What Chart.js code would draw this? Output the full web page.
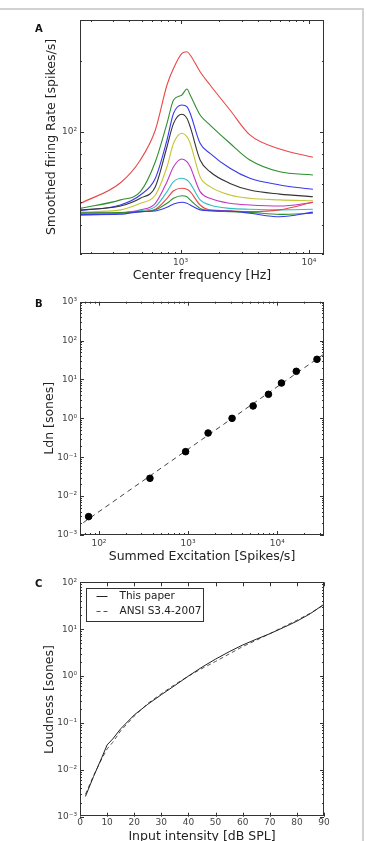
<!DOCTYPE html>
<html>
<head>
<meta charset="utf-8">
<script src="https://cdn.jsdelivr.net/npm/chart.js@4.4.1/dist/chart.umd.min.js"></script>
<style>
  html, body { margin: 0; padding: 0; background: #fff; width: 367px; height: 841px; overflow: hidden; position: relative; }
  .frame { position: absolute; left: -10px; top: 8px; width: 374px; height: 900px; border: 2px solid #d2d2d2; box-sizing: border-box; }
  canvas { position: absolute; left: 0; }
  .tag { position: absolute; left: 35px; font: bold 10px "DejaVu Sans", sans-serif; color: #111; line-height: 12px; }
</style>
</head>
<body>
<div class="frame"></div>
<canvas id="chartA" width="367" height="290" style="top:0"></canvas>
<canvas id="chartB" width="367" height="280" style="top:290px"></canvas>
<canvas id="chartC" width="367" height="290" style="top:570px"></canvas>
<div class="tag" style="top:23px">A</div>
<div class="tag" style="top:298px">B</div>
<div class="tag" style="top:578px">C</div>
<script>
const FONT = '"DejaVu Sans", sans-serif';

// Panel A: firing rate vs center frequency, one curve per level (lowest first)
const freqA = [167, 341, 487, 637, 785, 883, 1025, 1121, 1189, 1421, 1699, 2428, 3467, 5928, 10740];
const rateA1  = [44.2, 44.4, 45.5, 45.8, 47.5, 49.1, 49.9, 49.4, 48.6, 46.3, 45.9, 45.8, 44.8, 43.3, 45.3];
const rateA2  = [45.0, 45.1, 45.5, 46.3, 49.4, 51.9, 53.2, 52.7, 51.1, 47.0, 45.9, 45.5, 45.2, 44.3, 44.8];
const rateA3  = [44.8, 45.0, 45.5, 46.6, 51.9, 55.9, 57.3, 56.7, 55.4, 48.6, 46.3, 45.9, 45.5, 46.3, 49.9];
const rateA4  = [44.8, 45.0, 45.9, 47.8, 55.4, 61.1, 63.2, 62.1, 60.1, 51.1, 48.6, 47.0, 46.6, 46.3, 46.6];
const rateA5  = [44.0, 44.8, 46.3, 49.4, 61.1, 70.8, 76.4, 74.4, 70.8, 55.4, 51.9, 49.4, 48.6, 48.1, 49.8];
const rateA6  = [45.3, 46.3, 49.4, 53.6, 70.8, 89.2, 98.4, 95.2, 89.2, 64.2, 58.2, 53.6, 51.9, 51.1, 50.6];
const rateA7  = [46.3, 48.1, 51.9, 58.2, 86.2, 108.5, 118.6, 114, 105, 75.7, 67.4, 60.1, 56.3, 54.1, 52.7];
const rateA8  = [46.0, 48.6, 53.6, 63.2, 92.1, 119.8, 130, 127.8, 119.8, 89.2, 80.8, 69.7, 63.2, 59.2, 56.7];
const rateA9  = [47.0, 51.1, 55.4, 74.4, 108.5, 136.5, 143.5, 152.2, 143.5, 117.8, 106.7, 89.2, 75.7, 67.4, 65.3];
const rateA10 = [49.4, 60.5, 75.7, 101.6, 158.3, 186.5, 216, 219.6, 212.6, 180.4, 158.3, 123.7, 96.8, 84.3, 77.7];
const ratesA = [rateA1, rateA2, rateA3, rateA4, rateA5, rateA6, rateA7, rateA8, rateA9, rateA10];
const colorsA = ['#3838ee', '#2f8f2f', '#e84848', '#2fbfbf', '#c038c0', '#c4c436', '#333333', '#3838ee', '#2f8f2f', '#e84848'];

// Panel B: loudness vs summed excitation
const excB = [76.6, 373, 937, 1675, 3110, 5355, 7960, 11140, 16330, 27870];
const ldnB = [0.00297, 0.0287, 0.139, 0.42, 1.0, 2.08, 4.15, 8.1, 16.2, 33];
const fitExcB = [66.7, 33400];
const fitLdnB = [0.00208, 45.2];

// Panel C: loudness vs input intensity
const splC = [2, 5, 8, 10, 12, 15, 20, 25, 30, 35, 40, 45, 50, 55, 60, 65, 70, 75, 80, 85, 90];
const thisPaperC = [0.0027, 0.0072, 0.018, 0.034, 0.045, 0.075, 0.148, 0.25, 0.40, 0.63, 1.0, 1.55, 2.3, 3.3, 4.6, 6.1, 8.0, 10.8, 14.8, 21.5, 34];
const ansiC = [0.003, 0.0075, 0.017, 0.028, 0.038, 0.068, 0.14, 0.26, 0.42, 0.66, 1.0, 1.45, 2.05, 2.95, 4.25, 5.8, 8.0, 11.2, 15.5, 22, 33];
const legendC = ['This paper', 'ANSI S3.4-2007'];

const SUP = {'-': '⁻', '0': '⁰', '1': '¹', '2': '²', '3': '³', '4': '⁴', '5': '⁵', '6': '⁶', '7': '⁷', '8': '⁸', '9': '⁹'};

function isDecade(v) {
  const l = Math.log10(v);
  return Math.abs(l - Math.round(l)) < 1e-6;
}

function decadeLabel(v) {
  if (!isDecade(v)) return '';
  return '10' + String(Math.round(Math.log10(v))).split('').map(c => SUP[c]).join('');
}

// 1..9 x 10^e ticks inside [min, max]
function logTickValues(min, max) {
  const out = [];
  for (let e = Math.floor(Math.log10(min)); e <= Math.ceil(Math.log10(max)); e++) {
    for (let m = 1; m <= 9; m++) {
      const v = Number((m * Math.pow(10, e)).toPrecision(6));
      if (v >= min * 0.999999 && v <= max * 1.000001) out.push(v);
    }
  }
  return out;
}

// matplotlib style frame with inward ticks on all four sides
const boxTicks = {
  id: 'boxTicks',
  afterDraw(chart) {
    const { ctx, chartArea: a, scales } = chart;
    ctx.save();
    ctx.strokeStyle = '#333';
    ctx.lineWidth = 1;
    ctx.beginPath();
    Object.values(scales).forEach(s => {
      s.ticks.forEach(t => {
        const len = (s.type !== 'logarithmic' || isDecade(t.value)) ? 4 : 2;
        const p = Math.round(s.getPixelForValue(t.value)) + 0.5;
        if (s.isHorizontal()) {
          ctx.moveTo(p, a.bottom); ctx.lineTo(p, a.bottom - len);
          ctx.moveTo(p, a.top); ctx.lineTo(p, a.top + len);
        } else {
          ctx.moveTo(a.left, p); ctx.lineTo(a.left + len, p);
          ctx.moveTo(a.right, p); ctx.lineTo(a.right - len, p);
        }
      });
    });
    ctx.stroke();
    ctx.strokeRect(Math.round(a.left) + 0.5, Math.round(a.top) + 0.5, Math.round(a.width) - 1, Math.round(a.height) - 1);
    ctx.restore();
  }
};

// legend drawn inside the plot, upper left
const boxLegend = {
  id: 'boxLegend',
  afterDraw(chart, args, opts) {
    if (!opts.show) return;
    const { ctx, chartArea: a } = chart;
    const x0 = a.left + 5.5, y0 = a.top + 5.5, w = 117, h = 33;
    ctx.save();
    ctx.fillStyle = '#fff';
    ctx.fillRect(x0, y0, w, h);
    ctx.strokeStyle = '#333';
    ctx.lineWidth = 1;
    ctx.strokeRect(Math.round(x0) + 0.5, Math.round(y0) + 0.5, w, h);
    ctx.font = '10.5px ' + FONT;
    ctx.textBaseline = 'middle';
    chart.data.datasets.forEach((ds, i) => {
      const y = Math.round(y0 + 8 + i * 15.3) + 0.5;
      ctx.strokeStyle = ds.borderColor;
      ctx.setLineDash(ds.borderDash || []);
      ctx.beginPath();
      ctx.moveTo(x0 + 11, y);
      ctx.lineTo(x0 + 22, y);
      ctx.stroke();
      ctx.setLineDash([]);
      ctx.fillStyle = '#222';
      ctx.fillText(ds.label, x0 + 34, y);
    });
    ctx.restore();
  }
};

function titleCfg(text, pad) {
  return { display: true, text: text, color: '#222', font: { family: FONT, size: 12.5 }, padding: pad };
}

function tickCfg(extra) {
  return Object.assign({ autoSkip: false, maxRotation: 0, padding: 3, color: '#444', font: { family: FONT, size: 9 } }, extra);
}

const noGrid = { display: false, drawTicks: false, tickLength: 0 };

function logAxis(min, max, title, pad, fit) {
  return {
    type: 'logarithmic',
    min: min,
    max: max,
    afterBuildTicks: s => { s.ticks = logTickValues(min, max).map(v => ({ value: v })); },
    afterFit: fit,
    ticks: tickCfg({ callback: v => decadeLabel(v) }),
    grid: noGrid,
    border: { display: false },
    title: titleCfg(title, pad)
  };
}

function baseOptions(padTop, xAxis, yAxis, legendShow) {
  return {
    responsive: false,
    animation: false,
    layout: { padding: { top: padTop, right: 43, left: 0, bottom: 0 } },
    scales: { x: xAxis, y: yAxis },
    plugins: { legend: { display: false }, tooltip: { enabled: false }, boxLegend: { show: legendShow } }
  };
}

// Panel A
new Chart(document.getElementById('chartA'), {
  type: 'line',
  data: {
    datasets: ratesA.map((r, k) => ({
      data: freqA.map((f, i) => ({ x: f, y: r[i] })),
      borderColor: colorsA[k],
      borderWidth: 1.1,
      pointRadius: 0,
      cubicInterpolationMode: 'monotone',
      fill: false
    }))
  },
  options: baseOptions(20,
    logAxis(165, 13100, 'Center frequency [Hz]', { top: 0, bottom: 6.5 }, s => { s.height = 36; }),
    logAxis(30, 300, 'Smoothed firing Rate [spikes/s]', { top: 44.2, bottom: 0 }, s => { s.width = 80; }),
    false),
  plugins: [boxTicks, boxLegend]
});

// Panel B
new Chart(document.getElementById('chartB'), {
  type: 'scatter',
  data: {
    datasets: [
      {
        data: fitExcB.map((x, i) => ({ x: x, y: fitLdnB[i] })),
        showLine: true,
        borderColor: '#444',
        borderWidth: 1,
        borderDash: [5, 4],
        pointRadius: 0,
        order: 2
      },
      {
        data: excB.map((x, i) => ({ x: x, y: ldnB[i] })),
        backgroundColor: '#000',
        borderColor: '#000',
        pointRadius: 3.3,
        order: 1
      }
    ]
  },
  options: baseOptions(11.7,
    logAxis(61.3, 33400, 'Summed Excitation [Spikes/s]', { top: 0, bottom: 5.5 }, s => { s.height = 35; }),
    logAxis(0.001, 1000, 'Ldn [sones]', { top: 42.5, bottom: 0 }, s => { s.width = 80; }),
    false),
  plugins: [boxTicks, boxLegend]
});

// Panel C
new Chart(document.getElementById('chartC'), {
  type: 'line',
  data: {
    datasets: [
      {
        label: legendC[0],
        data: splC.map((x, i) => ({ x: x, y: thisPaperC[i] })),
        borderColor: '#222',
        borderWidth: 1,
        pointRadius: 0,
        tension: 0
      },
      {
        label: legendC[1],
        data: splC.map((x, i) => ({ x: x, y: ansiC[i] })),
        borderColor: '#555',
        borderWidth: 1,
        borderDash: [4, 3],
        pointRadius: 0,
        tension: 0
      }
    ]
  },
  options: baseOptions(12.3,
    {
      type: 'linear',
      min: 0,
      max: 90,
      afterFit: s => { s.height = 43.3; },
      ticks: tickCfg({ stepSize: 10, padding: 1 }),
      grid: noGrid,
      border: { display: false },
      title: titleCfg('Input intensity [dB SPL]', { top: 0, bottom: 15.8 })
    },
    logAxis(0.001, 100, 'Loudness [sones]', { top: 42.5, bottom: 0 }, s => { s.width = 80; }),
    true),
  plugins: [boxTicks, boxLegend]
});
</script>
</body>
</html>
